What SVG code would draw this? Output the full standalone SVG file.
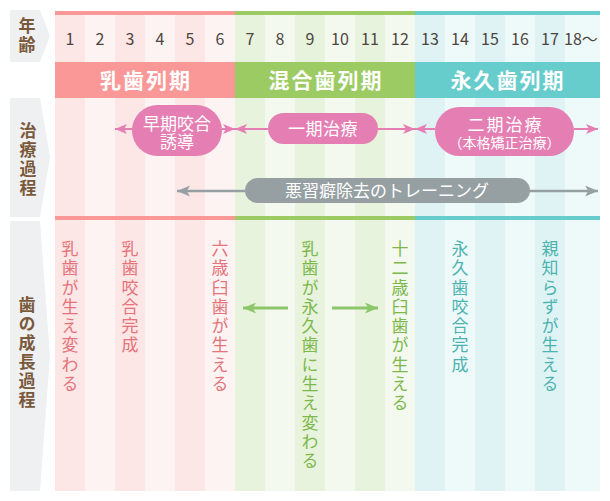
<svg xmlns="http://www.w3.org/2000/svg" width="610" height="501" viewBox="0 0 610 501">
<defs>
<style>
text{font-family:"Noto Sans CJK JP","Noto Sans",sans-serif;}
.num{font-size:16px;fill:#4d4540;text-anchor:middle;}
.phase{font-size:21px;fill:#fff;text-anchor:middle;font-weight:bold;letter-spacing:2px;}
.lbl{font-size:17px;fill:#7a593b;font-weight:bold;writing-mode:vertical-rl;text-orientation:upright;letter-spacing:2px;}
.vt{font-size:17px;writing-mode:vertical-rl;text-orientation:upright;letter-spacing:2.3px;}
.pk{fill:#e5737a;}
.gr{fill:#7cb84a;}
.tl{fill:#4db3b0;}
.pill{fill:#fff;text-anchor:middle;font-size:17px;}
.side{fill:#eef0f2;}
.pa{stroke:#e57fb3;stroke-width:2;fill:none;}
.ga{stroke:#96a0a3;stroke-width:2.5;fill:none;}
.gn{stroke:#8dc66a;stroke-width:3;fill:none;}
</style>
<marker id="mp" viewBox="0 0 12 10" refX="12" refY="5" markerWidth="12" markerHeight="10" markerUnits="userSpaceOnUse" orient="auto"><path d="M0,0 L12,5 L0,10 L3,5 z" fill="#e57fb3"/></marker>
<marker id="mg" viewBox="0 0 12 10" refX="12" refY="5" markerWidth="13" markerHeight="11" markerUnits="userSpaceOnUse" orient="auto"><path d="M0,0 L12,5 L0,10 L3,5 z" fill="#96a0a3"/></marker>
<marker id="mn" viewBox="0 0 12 10" refX="12" refY="5" markerWidth="13" markerHeight="11" markerUnits="userSpaceOnUse" orient="auto"><path d="M0,0 L12,5 L0,10 L3,5 z" fill="#8dc66a"/></marker>
</defs>
<rect width="610" height="501" fill="#fff"/>
<g id="stripes">
<rect x="55" y="15" width="30" height="476" fill="#fde6e6"/>
<rect x="85" y="15" width="30" height="476" fill="#fdf3f3"/>
<rect x="115" y="15" width="30" height="476" fill="#fde6e6"/>
<rect x="145" y="15" width="30" height="476" fill="#fdf3f3"/>
<rect x="175" y="15" width="30" height="476" fill="#fde6e6"/>
<rect x="205" y="15" width="30" height="476" fill="#fdf3f3"/>
<rect x="235" y="15" width="30" height="476" fill="#e8f3dd"/>
<rect x="265" y="15" width="30" height="476" fill="#f3f9ee"/>
<rect x="295" y="15" width="30" height="476" fill="#e8f3dd"/>
<rect x="325" y="15" width="30" height="476" fill="#f3f9ee"/>
<rect x="355" y="15" width="30" height="476" fill="#e8f3dd"/>
<rect x="385" y="15" width="30" height="476" fill="#f3f9ee"/>
<rect x="415" y="15" width="30" height="476" fill="#dff3f5"/>
<rect x="445" y="15" width="30" height="476" fill="#eefafa"/>
<rect x="475" y="15" width="30" height="476" fill="#dff3f5"/>
<rect x="505" y="15" width="30" height="476" fill="#eefafa"/>
<rect x="535" y="15" width="30" height="476" fill="#dff3f5"/>
<rect x="565" y="15" width="35" height="476" fill="#eefafa"/>
<rect x="55" y="11" width="180" height="4" fill="#fa9898"/>
<rect x="235" y="11" width="180" height="4" fill="#9bcb62"/>
<rect x="415" y="11" width="185" height="4" fill="#66cccc"/>
<rect x="55" y="216" width="180" height="4" fill="#fa9898"/>
<rect x="235" y="216" width="180" height="4" fill="#9bcb62"/>
<rect x="415" y="216" width="185" height="4" fill="#66cccc"/>
</g>
<g id="ages">
<text class="num" x="70" y="45">1</text>
<text class="num" x="100" y="45">2</text>
<text class="num" x="130" y="45">3</text>
<text class="num" x="160" y="45">4</text>
<text class="num" x="190" y="45">5</text>
<text class="num" x="220" y="45">6</text>
<text class="num" x="250" y="45">7</text>
<text class="num" x="280" y="45">8</text>
<text class="num" x="310" y="45">9</text>
<text class="num" x="340" y="45">10</text>
<text class="num" x="370" y="45">11</text>
<text class="num" x="400" y="45">12</text>
<text class="num" x="430" y="45">13</text>
<text class="num" x="460" y="45">14</text>
<text class="num" x="490" y="45">15</text>
<text class="num" x="520" y="45">16</text>
<text class="num" x="550" y="45">17</text>
<text class="num" x="581" y="45">18〜</text>
</g>
<g id="phase-nyushi"><rect x="55" y="62" width="180" height="36" fill="#fa9898"/><text class="phase" x="146" y="88">乳歯列期</text></g>
<g id="phase-kongo"><rect x="235" y="62" width="180" height="36" fill="#9bcb62"/><text class="phase" x="326" y="88">混合歯列期</text></g>
<g id="phase-eikyu"><rect x="415" y="62" width="185" height="36" fill="#66cccc"/><text class="phase" x="508" y="88">永久歯列期</text></g>
<g id="side-age"><path class="side" d="M10,10 H40 L50,36 L40,62 H10 Z"/><text class="lbl" x="27" y="17">年齢</text></g>
<g id="side-treat"><path class="side" d="M10,98 H40 L50,157 L40,217 H10 Z"/><text class="lbl" x="28" y="122">治療過程</text></g>
<g id="side-growth"><path class="side" d="M10,221 H40 L50,356 L40,491 H10 Z"/><text class="lbl" x="27" y="296">歯の成長過程</text></g>
<g id="connectors">
<line class="pa" x1="132" y1="129" x2="115" y2="129" marker-end="url(#mp)"/>
<line class="pa" x1="222" y1="129" x2="235" y2="129" marker-end="url(#mp)"/>
<line class="pa" x1="268" y1="129" x2="235" y2="129" marker-end="url(#mp)"/>
<line class="pa" x1="378" y1="129" x2="415" y2="129" marker-end="url(#mp)"/>
<line class="pa" x1="435" y1="129" x2="415" y2="129" marker-end="url(#mp)"/>
<line class="pa" x1="574" y1="129" x2="598" y2="129" marker-end="url(#mp)"/>
<line class="ga" x1="245" y1="191" x2="177" y2="191" marker-end="url(#mg)"/>
<line class="ga" x1="530" y1="191" x2="598" y2="191" marker-end="url(#mg)"/>
<line class="gn" x1="288" y1="308" x2="243" y2="308" marker-end="url(#mn)"/>
<line class="gn" x1="332" y1="308" x2="378" y2="308" marker-end="url(#mn)"/>
</g>
<g id="pill-soki"><rect x="132" y="105" width="90" height="51" rx="25.5" fill="#e57fb3"/><text class="pill" x="177" y="130">早期咬合</text><text class="pill" x="177" y="148">誘導</text></g>
<g id="pill-ikki"><rect x="268" y="113" width="110" height="31" rx="15.5" fill="#e57fb3"/><text class="pill" x="323" y="134.5" style="letter-spacing:0.5px">一期治療</text></g>
<g id="pill-niki"><rect x="435" y="107" width="139" height="49" rx="24.5" fill="#e57fb3"/><text class="pill" x="505.5" y="130.5" style="letter-spacing:2px">二期治療</text><text class="pill" x="504.5" y="148" style="font-size:14px">（本格矯正治療）</text></g>
<g id="pill-training"><rect x="245" y="178" width="285" height="25" rx="12.5" fill="#96a0a3"/><text class="pill" x="387" y="197">悪習癖除去のトレーニング</text></g>
<g id="g1"><text class="vt pk" x="70" y="240">乳歯が生え変わる</text></g>
<g id="g2"><text class="vt pk" x="130" y="240">乳歯咬合完成</text></g>
<g id="g3"><text class="vt pk" x="220" y="240">六歳臼歯が生える</text></g>
<g id="g4"><text class="vt gr" x="310" y="240">乳歯が永久歯に生え変わる</text></g>
<g id="g5"><text class="vt gr" x="400" y="240">十二歳臼歯が生える</text></g>
<g id="g6"><text class="vt tl" x="460" y="240">永久歯咬合完成</text></g>
<g id="g7"><text class="vt tl" x="550" y="240">親知らずが生える</text></g>
</svg>
